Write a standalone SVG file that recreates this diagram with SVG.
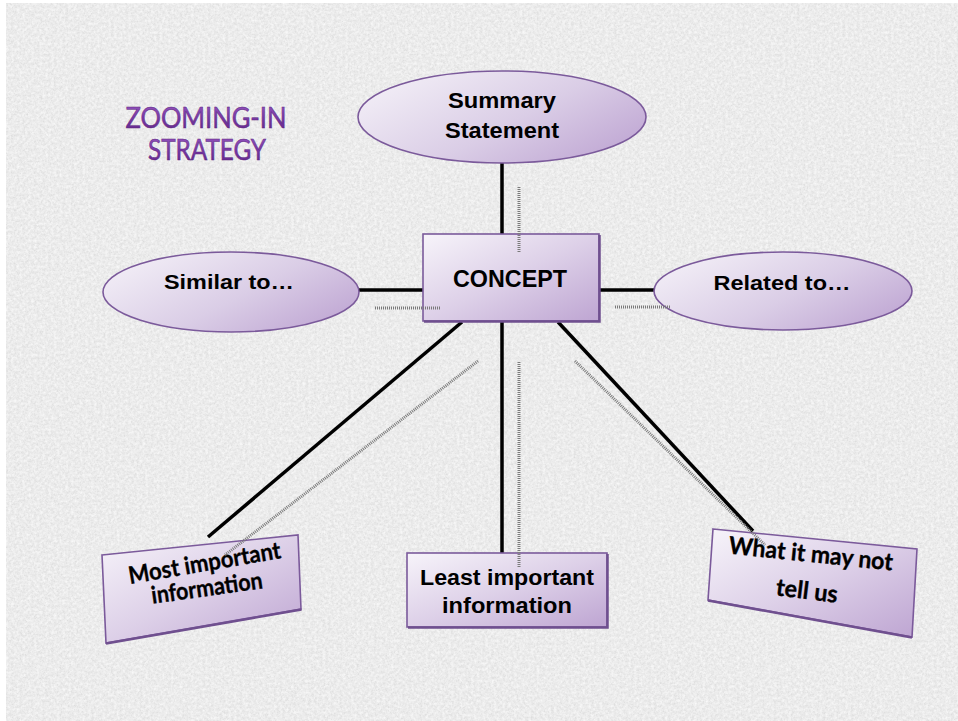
<svg xmlns="http://www.w3.org/2000/svg" width="958" height="721" viewBox="0 0 958 721">
<defs>
<filter id="noise" x="0" y="0" width="100%" height="100%">
<feTurbulence type="fractalNoise" baseFrequency="0.7" numOctaves="2" seed="7" result="t"/>
<feColorMatrix in="t" type="matrix" values="0 0 0 0 0.6  0 0 0 0 0.6  0 0 0 0 0.6  0.9 0 0 0 -0.35"/>
</filter>
<filter id="noise2" x="0" y="0" width="100%" height="100%">
<feTurbulence type="fractalNoise" baseFrequency="0.35" numOctaves="2" seed="11" result="t"/>
<feColorMatrix in="t" type="matrix" values="0 0 0 0 1  0 0 0 0 1  0 0 0 0 1  0 1.3 0 0 -0.42"/>
</filter>
<linearGradient id="fillG" x1="0" y1="0" x2="1" y2="1">
<stop offset="0" stop-color="#f7f4fa"/>
<stop offset="0.5" stop-color="#ddd0e8"/>
<stop offset="1" stop-color="#bea5d2"/>
</linearGradient>
<linearGradient id="fillE" x1="0" y1="0.2" x2="1" y2="0.8">
<stop offset="0" stop-color="#f3eff7"/>
<stop offset="0.55" stop-color="#dacde6"/>
<stop offset="1" stop-color="#bfa6d3"/>
</linearGradient>
<linearGradient id="titleG" x1="0" y1="0" x2="0" y2="1">
<stop offset="0" stop-color="#9a5cc4"/>
<stop offset="0.5" stop-color="#7a3aa6"/>
<stop offset="1" stop-color="#5e2585"/>
</linearGradient>
<style>
.node{stroke:#7b5a9b;stroke-width:1.6}
.shade{fill:none;stroke:#6f4f8f;stroke-width:2.5}
.lbl{font-family:"Liberation Sans",Arial,sans-serif;font-weight:bold;fill:#000;text-anchor:middle}
.lbl2{font-family:Lato,"Open Sans",sans-serif;font-weight:bold;fill:#000;text-anchor:middle;stroke:#000;stroke-width:0.35}
.conn{stroke:#000;stroke-width:3.5;fill:none}
.ghost{stroke:#7a7a7a;stroke-width:3;stroke-dasharray:1 1;fill:none}
.title{font-family:Lato,"Open Sans",sans-serif;fill:url(#titleG);stroke:#5a2380;stroke-width:0.5;text-anchor:middle}
</style>
</defs>
<rect width="958" height="721" fill="#ffffff"/>
<rect x="6" y="3" width="952" height="718" fill="#e9e9e9"/>
<rect x="6" y="3" width="952" height="718" filter="url(#noise)"/>
<rect x="6" y="3" width="952" height="718" filter="url(#noise2)"/>

<g id="title">
<text class="title" x="206" y="128" font-size="28" textLength="161" lengthAdjust="spacingAndGlyphs">ZOOMING-IN</text>
<text class="title" x="207" y="160" font-size="28" textLength="118" lengthAdjust="spacingAndGlyphs">STRATEGY</text>
</g>

<g id="connectors">
<line class="conn" x1="502" y1="160" x2="502" y2="235"/>
<line class="conn" x1="357" y1="290" x2="424" y2="290"/>
<line class="conn" x1="598" y1="290" x2="656" y2="290"/>
<line class="conn" x1="462" y1="322" x2="208" y2="537"/>
<line class="conn" x1="502" y1="320" x2="502" y2="554"/>
<line class="conn" x1="558" y1="322" x2="753" y2="531"/>
</g>

<g id="summary">
<ellipse class="node" cx="502" cy="117" rx="144" ry="46" fill="url(#fillE)"/>
<text class="lbl" x="502" y="108" font-size="22" textLength="108" lengthAdjust="spacingAndGlyphs">Summary</text>
<text class="lbl" x="502" y="138" font-size="22" textLength="114" lengthAdjust="spacingAndGlyphs">Statement</text>
</g>

<g id="similar">
<ellipse class="node" cx="231" cy="292" rx="128" ry="40" fill="url(#fillE)"/>
<text class="lbl" x="229" y="289" font-size="21" textLength="130" lengthAdjust="spacingAndGlyphs">Similar to…</text>
</g>

<g id="related">
<ellipse class="node" cx="783" cy="291" rx="129" ry="39" fill="url(#fillE)"/>
<text class="lbl" x="782" y="290" font-size="21" textLength="137" lengthAdjust="spacingAndGlyphs">Related to…</text>
</g>

<g id="concept">
<rect class="node" x="423" y="234" width="176" height="87" fill="url(#fillG)"/>
<path class="shade" d="M424 321.5 H599.5 V235"/>
<text class="lbl" x="510" y="287" font-size="24" textLength="114" lengthAdjust="spacingAndGlyphs">CONCEPT</text>
</g>

<g id="most">
<polygon class="node" points="102,555 298,535 301,609 106,643" fill="url(#fillG)"/>
<path class="shade" d="M106 643.5 L301.5 609.5"/>
<g transform="rotate(-9.7 206 571)">
<text class="lbl2" x="206" y="571" font-size="24" textLength="154" lengthAdjust="spacingAndGlyphs">Most important</text>
</g>
<g transform="rotate(-8 208 596)">
<text class="lbl2" x="208" y="596" font-size="24" textLength="112" lengthAdjust="spacingAndGlyphs">information</text>
</g>
</g>

<g id="least">
<rect class="node" x="407" y="553" width="200" height="74" fill="url(#fillG)"/>
<path class="shade" d="M408 627.5 H607.5 V554"/>
<text class="lbl" x="507" y="585" font-size="22" textLength="174" lengthAdjust="spacingAndGlyphs">Least important</text>
<text class="lbl" x="507" y="613" font-size="22" textLength="130" lengthAdjust="spacingAndGlyphs">information</text>
</g>

<g id="whatnot">
<polygon class="node" points="713,529 917,549 912,637 708,600" fill="url(#fillG)"/>
<path class="shade" d="M708 600.5 L912 637.5"/>
<g transform="rotate(5.9 810 562)">
<text class="lbl2" x="810" y="562" font-size="24" textLength="165" lengthAdjust="spacingAndGlyphs">What it may not</text>
</g>
<g transform="rotate(7 806 599)">
<text class="lbl2" x="806" y="599" font-size="24" textLength="62" lengthAdjust="spacingAndGlyphs">tell us</text>
</g>
</g>

<g id="connector-shadows">
<line class="ghost" x1="519" y1="187" x2="519" y2="252"/>
<line class="ghost" x1="375" y1="308" x2="440" y2="308"/>
<line class="ghost" x1="615" y1="307" x2="671" y2="307"/>
<line class="ghost" x1="478" y1="361" x2="225" y2="555"/>
<line class="ghost" x1="519" y1="362" x2="519" y2="568"/>
<line class="ghost" x1="575" y1="361" x2="765" y2="545"/>
</g>
</svg>
